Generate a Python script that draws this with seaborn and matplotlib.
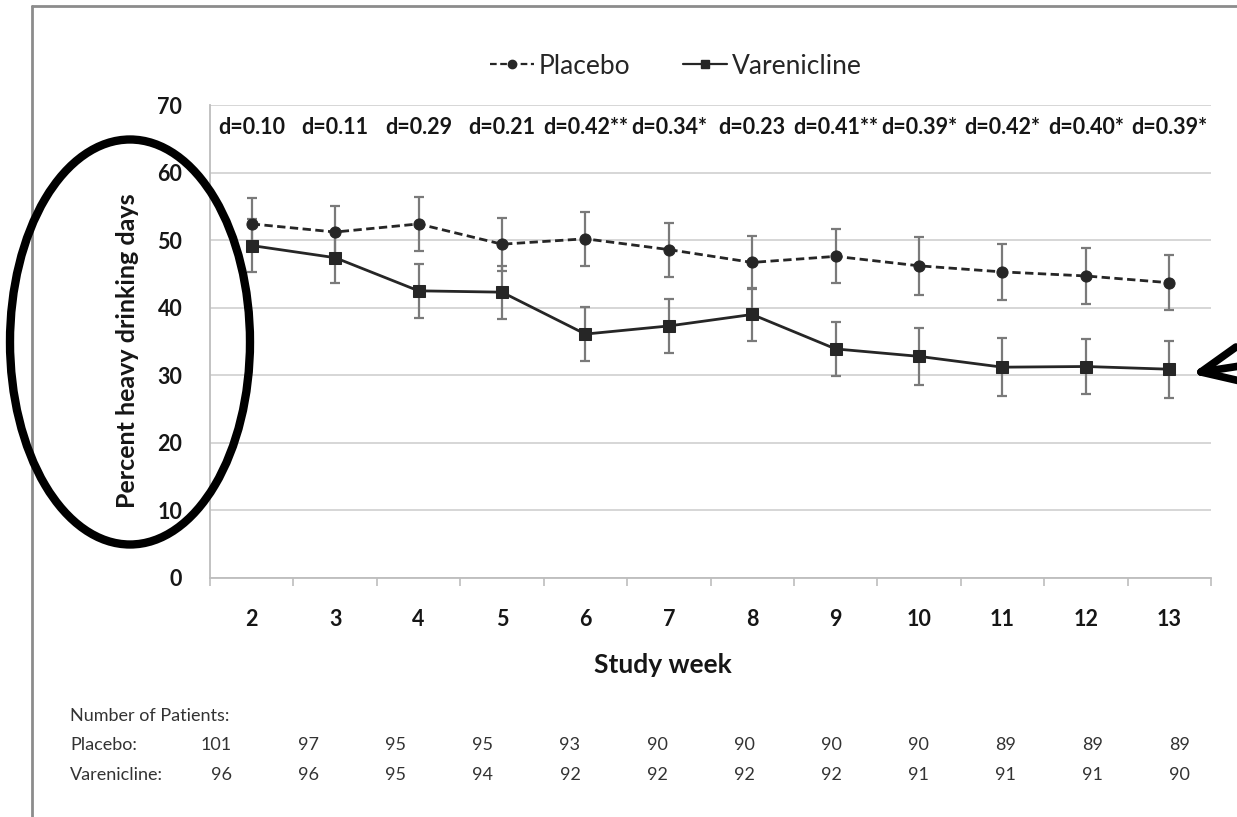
import numpy as np
import pandas as pd
import matplotlib
matplotlib.use("Agg")
import matplotlib.pyplot as plt
import seaborn as sns
from matplotlib.patches import Ellipse
from matplotlib.lines import Line2D

# ---- data -----------------------------------------------------------------
weeks = [2, 3, 4, 5, 6, 7, 8, 9, 10, 11, 12, 13]
placebo_pct = [52.4, 51.2, 52.4, 49.4, 50.2, 48.6, 46.7, 47.6, 46.2, 45.3, 44.7, 43.7]
placebo_se = [3.9, 3.9, 4.0, 3.9, 4.0, 4.0, 3.9, 4.0, 4.3, 4.2, 4.2, 4.1]
varenicline_pct = [49.2, 47.4, 42.5, 42.3, 36.1, 37.3, 39.0, 33.9, 32.8, 31.2, 31.3, 30.9]
varenicline_se = [3.9, 3.8, 4.0, 3.9, 4.0, 4.0, 3.9, 4.0, 4.2, 4.3, 4.1, 4.2]
effect_sizes = ["d=0.10", "d=0.11", "d=0.29", "d=0.21", "d=0.42**", "d=0.34*",
                "d=0.23", "d=0.41**", "d=0.39*", "d=0.42*", "d=0.40*", "d=0.39*"]
n_placebo = [101, 97, 95, 95, 93, 90, 90, 90, 90, 89, 89, 89]
n_varenicline = [96, 96, 95, 94, 92, 92, 92, 92, 91, 91, 91, 90]
groups = ["Placebo", "Varenicline"]

# ---- style ----------------------------------------------------------------
sns.set_theme(style="white")
plt.rcParams["font.family"] = ["Lato", "DejaVu Sans"]

W, H = 1237, 817
fig = plt.figure(figsize=(W / 100, H / 100), dpi=100)
fig.patch.set_facecolor("white")


def fx(px):
    return px / W


def fy(py):
    return 1 - py / H


ax = fig.add_axes([fx(210), fy(578), fx(1211) - fx(210), fy(105) - fy(578)])

pos = np.arange(len(weeks))
df = pd.DataFrame({
    "pos": np.concatenate([pos, pos]),
    "pct": placebo_pct + varenicline_pct,
    "group": [groups[0]] * len(weeks) + [groups[1]] * len(weeks),
})

line_color = "#262626"
text_color = "#161616"
sns.lineplot(data=df, x="pos", y="pct", style="group",
             markers={"Placebo": "o", "Varenicline": "s"},
             dashes={"Placebo": (3, 1.6), "Varenicline": ""},
             color=line_color, linewidth=2, markersize=8,
             markeredgecolor=line_color, ax=ax, legend=False, zorder=3)

for vals, se in [(placebo_pct, placebo_se), (varenicline_pct, varenicline_se)]:
    ax.errorbar(pos, vals, yerr=se, fmt="none", ecolor="#7a7a7a",
                elinewidth=1.6, capsize=3.5, capthick=1.6, zorder=2)

# effect-size annotations along the top
for i, lab in enumerate(effect_sizes):
    ax.text(i, 66.7, lab, ha="center", va="center", fontsize=15.5,
            fontweight="bold", color=text_color)

# axes, grid, ticks
ax.set_xlim(-0.5, len(weeks) - 0.5)
ax.set_ylim(0, 70)
ax.set_yticks(range(0, 71, 10))
ax.set_xticks(pos)
ax.set_xticklabels([str(w) for w in weeks])
ax.set_xticks(np.arange(-0.5, len(weeks)), minor=True)
ax.yaxis.grid(True, color="#d3d3d3", linewidth=1.3)
ax.xaxis.grid(False)
ax.set_axisbelow(True)
for side in ["top", "right"]:
    ax.spines[side].set_visible(False)
for side in ["left", "bottom"]:
    ax.spines[side].set_color("#bdbdbd")
    ax.spines[side].set_linewidth(1.3)
ax.tick_params(axis="x", which="major", length=0, pad=22, labelsize=15.5)
ax.tick_params(axis="x", which="minor", length=6, width=1.2, color="#bdbdbd",
               direction="out", bottom=True)
ax.tick_params(axis="y", length=0, pad=20, labelsize=15.5)
for t in ax.get_xticklabels() + ax.get_yticklabels():
    t.set_fontweight("bold")
    t.set_color(text_color)

ax.set_xlabel("Study week", fontsize=19, fontweight="bold", color=text_color)
ax.xaxis.set_label_coords((663 - 210) / 1001, (578 - 653) / 473)
ax.set_ylabel("Percent heavy drinking days", fontsize=18, fontweight="bold",
              color=text_color)
ax.yaxis.set_label_coords((139 - 210) / 1001, 0.48)

# legend
handles = [
    Line2D([], [], color=line_color, linestyle=(0, (3, 1.6)), linewidth=1.6,
           marker="o", markersize=6),
    Line2D([], [], color=line_color, linestyle="-", linewidth=1.6,
           marker="s", markersize=6),
]
fig.legend(handles, groups, loc="center", bbox_to_anchor=(fx(676), fy(66)),
           ncol=2, frameon=False, fontsize=19, handlelength=1.65,
           handletextpad=0.2, columnspacing=2.0)

# patient counts beneath the chart
tc = "#333333"
fig.text(fx(70), fy(716), "Number of Patients:", fontsize=13, color=tc,
         va="center", ha="left")
fig.text(fx(70), fy(745), "Placebo:", fontsize=13, color=tc, va="center", ha="left")
fig.text(fx(70), fy(775), "Varenicline:", fontsize=13, color=tc, va="center", ha="left")
for i in range(len(weeks)):
    xr = fx(232 + 87.1 * i)
    fig.text(xr, fy(745), str(n_placebo[i]), fontsize=13, color=tc,
             va="center", ha="right")
    fig.text(xr, fy(775), str(n_varenicline[i]), fontsize=13, color=tc,
             va="center", ha="right")

# outer frame
frame_kw = dict(transform=fig.transFigure, color="#8c8c8c", linewidth=2)
fig.add_artist(Line2D([fx(32), fx(32)], [0, fy(6)], **frame_kw))
fig.add_artist(Line2D([fx(32), 1], [fy(6), fy(6)], **frame_kw))

# hand-drawn emphasis: ellipse around the axis title, arrow at the last point
fig.add_artist(Ellipse((fx(130), fy(342)), fx(240), 405 / H,
                       transform=fig.transFigure, fill=False,
                       edgecolor="black", linewidth=6, zorder=10))
tip = (1201, 372)
for end in [(1236, 347), (1240, 366), (1240, 381)]:
    fig.add_artist(Line2D([fx(tip[0]), fx(end[0])], [fy(tip[1]), fy(end[1])],
                          transform=fig.transFigure, color="black",
                          linewidth=5.5, solid_capstyle="round", zorder=10))

fig.savefig("out.png", dpi=100, facecolor="white")
